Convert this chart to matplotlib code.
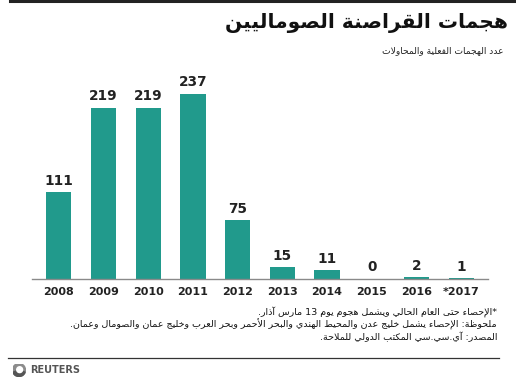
import re
import matplotlib
matplotlib.use('Agg')
import matplotlib.pyplot as plt
from matplotlib.patches import Wedge, Circle
from matplotlib.lines import Line2D

years = ['2008', '2009', '2010', '2011', '2012', '2013', '2014', '2015', '2016', '*2017']
attacks = [111, 219, 219, 237, 75, 15, 11, 0, 2, 1]

title = 'هجمات القراصنة الصوماليين'
subtitle = 'عدد الهجمات الفعلية والمحاولات'
notes = [
    '*الإحصاء حتى العام الحالي ويشمل هجوم يوم 13 مارس آذار.',
    'ملحوظة: الإحصاء يشمل خليج عدن والمحيط الهندي والبحر الأحمر وبحر العرب وخليج عمان والصومال وعمان.',
    'المصدر: آي.سي.سي المكتب الدولي للملاحة.',
]

# arabic letter -> (first presentation form, number of forms)
FORMS = {
    'ء': (0xFE80, 1), 'آ': (0xFE81, 2), 'أ': (0xFE83, 2), 'ؤ': (0xFE85, 2),
    'إ': (0xFE87, 2), 'ئ': (0xFE89, 4), 'ا': (0xFE8D, 2), 'ب': (0xFE8F, 4),
    'ة': (0xFE93, 2), 'ت': (0xFE95, 4), 'ث': (0xFE99, 4), 'ج': (0xFE9D, 4),
    'ح': (0xFEA1, 4), 'خ': (0xFEA5, 4), 'د': (0xFEA9, 2), 'ذ': (0xFEAB, 2),
    'ر': (0xFEAD, 2), 'ز': (0xFEAF, 2), 'س': (0xFEB1, 4), 'ش': (0xFEB5, 4),
    'ص': (0xFEB9, 4), 'ض': (0xFEBD, 4), 'ط': (0xFEC1, 4), 'ظ': (0xFEC5, 4),
    'ع': (0xFEC9, 4), 'غ': (0xFECD, 4), 'ف': (0xFED1, 4), 'ق': (0xFED5, 4),
    'ك': (0xFED9, 4), 'ل': (0xFEDD, 4), 'م': (0xFEE1, 4), 'ن': (0xFEE5, 4),
    'ه': (0xFEE9, 4), 'و': (0xFEED, 2), 'ى': (0xFEEF, 2), 'ي': (0xFEF1, 4),
}
LAM_ALEF = {'آ': 0xFEF5, 'أ': 0xFEF7, 'إ': 0xFEF9, 'ا': 0xFEFB}


def shape(text):
    # join letters into presentation forms, then put in visual order
    chars = list(text)
    out = []
    i = 0
    prev_joins = False
    while i < len(chars):
        c = chars[i]
        if c == 'ل' and i + 1 < len(chars) and chars[i + 1] in LAM_ALEF:
            out.append(chr(LAM_ALEF[chars[i + 1]] + (1 if prev_joins else 0)))
            prev_joins = False
            i += 2
            continue
        if c not in FORMS:
            out.append(c)
            prev_joins = False
            i += 1
            continue
        base, n = FORMS[c]
        nxt = chars[i + 1] if i + 1 < len(chars) else ''
        next_joins = n == 4 and nxt in FORMS and FORMS[nxt][1] > 1
        jp = prev_joins and n > 1
        if jp and next_joins:
            code = base + 3
        elif next_joins:
            code = base + 2
        elif jp:
            code = base + 1
        else:
            code = base
        out.append(chr(code))
        prev_joins = next_joins
        i += 1
    s = ''.join(out)[::-1]
    return re.sub(r'[0-9A-Za-z]+', lambda m: m.group(0)[::-1], s)


teal = '#219a8c'
W, H = 516, 378

fig = plt.figure(figsize=(W / 100, H / 100), dpi=100)
ax = fig.add_axes([32 / W, (H - 279) / H, 456 / W, 199 / H])

x = list(range(len(years)))
ax.bar(x, attacks, width=0.56, color=teal, zorder=2)
for xi, v in zip(x, attacks):
    ax.text(xi, v + 6, str(v), ha='center', va='bottom', fontsize=9.8,
            fontweight='bold', color='#222222')

ax.set_xlim(-0.604, 9.604)
ax.set_ylim(0, 255)
ax.set_yticks([])
ax.set_xticks(x)
ax.set_xticklabels(years, fontsize=8, fontweight='bold', color='#222222')
ax.tick_params(axis='x', length=0, pad=5.5)
for side in ['top', 'left', 'right']:
    ax.spines[side].set_visible(False)
ax.spines['bottom'].set_color('#8a8a8a')
ax.spines['bottom'].set_linewidth(1.0)
ax.spines['bottom'].set_zorder(3)

fam = ['DejaVu Sans']
fig.text(508 / W, 1 - 23 / H, shape(title), ha='right', va='center',
         fontsize=14.5, fontweight='bold', family=fam, color='#111111')
fig.text(503 / W, 1 - 51 / H, shape(subtitle), ha='right', va='center',
         fontsize=6.6, family=fam, color='#222222')
for k, note in enumerate(notes):
    fig.text(497 / W, 1 - (312 + 12.5 * k) / H, shape(note), ha='right',
             va='center', fontsize=6.8, family=fam, color='#111111')

# frame lines
fig.add_artist(Line2D([10 / W, 1], [1 - 1 / H, 1 - 1 / H], color='#222222', lw=2.2))
fig.add_artist(Line2D([8 / W, 499 / W], [1 - 358 / H, 1 - 358 / H], color='#333333', lw=0.9))

# reuters logo
ly, r = 1 - 370 / H, 6.5
logo = fig.add_axes([(19 - r) / W, (H - 370 - r) / H, 2 * r / W, 2 * r / H])
logo.set_xlim(-1, 1)
logo.set_ylim(-1, 1)
logo.axis('off')
logo.add_patch(Circle((0, 0), 1, color='#8c8c8c'))
logo.add_patch(Wedge((0, 0), 1, 200, 340, color='#555555'))
logo.add_patch(Circle((0.1, 0.05), 0.45, color='white'))
fig.text(30 / W, ly, 'REUTERS', ha='left', va='center', fontsize=7,
         fontweight='bold', color='#555555')

fig.savefig('out.png', dpi=100)
